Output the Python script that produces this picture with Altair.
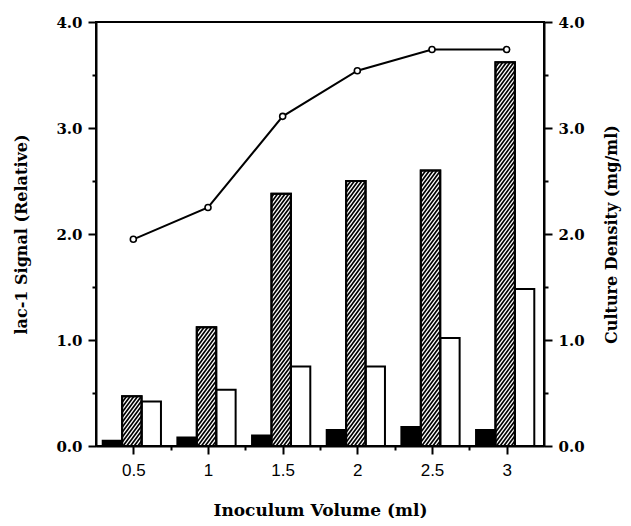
import altair as alt
import pandas as pd

# ---- data ----
volumes = [0.5, 1, 1.5, 2, 2.5, 3]
lac_black = [0.05, 0.08, 0.10, 0.15, 0.18, 0.15]
lac_hatched = [0.47, 1.12, 2.38, 2.50, 2.60, 3.62]
lac_white = [0.42, 0.53, 0.75, 0.75, 1.02, 1.48]
density = [1.95, 2.25, 3.11, 3.54, 3.74, 3.74]

# ---- layout constants ----
W, H = 448, 424
XPX = W / 3.0   # px per x unit (domain 0.25..3.25)
YPX = H / 4.0   # px per y unit (domain 0..4)
BW = 0.13       # bar width in x units
OFF_BLACK, OFF_HATCH, OFF_WHITE = -0.205, -0.075, 0.055
SLOPE = 1.35    # hatch slope (screen)
PERIOD = 5.0    # hatch vertical period, px
SERIF = "DejaVu Serif"
SANS = "Liberation Sans"

black_df = pd.DataFrame({"vol": volumes, "val": lac_black})
hatch_df = pd.DataFrame({"vol": volumes, "val": lac_hatched})
white_df = pd.DataFrame({"vol": volumes, "val": lac_white})
line_df = pd.DataFrame({"vol": volumes, "density": density})

xscale = alt.Scale(domain=[0.25, 3.25], nice=False, zero=False)
yscale = alt.Scale(domain=[0, 4], nice=False)

x_ticks = [0.5, 0.75, 1, 1.25, 1.5, 1.75, 2, 2.25, 2.5, 2.75, 3]
y_ticks = [0, 0.5, 1, 1.5, 2, 2.5, 3, 3.5, 4]

x_axis = alt.Axis(
    values=x_ticks,
    labelExpr="(datum.value * 2) % 1 === 0 ? format(datum.value, '~g') : ''",
    tickSize={"condition": {"test": "(datum.value * 2) % 1 === 0", "value": 8}, "value": 4},
    title="Inoculum Volume (ml)",
    titleFont=SERIF, titleFontWeight="bold", titleFontSize=17,
    titlePadding=24,
    labelFont=SANS, labelFontSize=17, labelFontWeight="normal", labelPadding=8,
    grid=False, domainColor="black", domainWidth=2, tickColor="black", tickWidth=2,
    labelColor="black", titleColor="black",
)

def y_axis(orient, title, title_pad, angle, baseline):
    return alt.Axis(
        orient=orient,
        values=y_ticks,
        labelExpr="datum.value % 1 === 0 ? format(datum.value, '.1f') : ''",
        tickSize={"condition": {"test": "datum.value % 1 === 0", "value": 8}, "value": 4},
        title=title,
        titleFont=SERIF, titleFontWeight="bold", titleFontSize=16,
        titlePadding=title_pad, titleAngle=angle, titleBaseline=baseline,
        labelFont=SERIF, labelFontSize=15, labelFontWeight="bold", labelPadding=6,
        grid=False, domainColor="black", domainWidth=2, tickColor="black", tickWidth=2,
        labelColor="black", titleColor="black",
    )

left_axis = y_axis("left", "lac-1 Signal (Relative)", 26, 270, "bottom")
right_axis = y_axis("right", "Culture Density (mg/ml)", 19, 270, "top")

def bar_layer(df, off, fill, fill_opacity=1.0):
    return alt.Chart(df).transform_calculate(
        x0=f"datum.vol + ({off})", x1=f"datum.vol + ({off}) + {BW}"
    ).mark_rect(fill=fill, fillOpacity=fill_opacity, stroke="black", strokeWidth=2).encode(
        x=alt.X("x0:Q", scale=xscale, axis=x_axis),
        x2="x1:Q",
        y=alt.Y("val:Q", scale=yscale, axis=left_axis),
        y2=alt.datum(0),
    )

black_bars = bar_layer(black_df, OFF_BLACK, "black")
white_bars = bar_layer(white_df, OFF_WHITE, "white")
hatch_base = bar_layer(hatch_df, OFF_HATCH, "white")
hatch_outline = bar_layer(hatch_df, OFF_HATCH, "white", 0.0)

wpx = BW * XPX
hatch_lines = alt.Chart(hatch_df).transform_calculate(
    hp=f"datum.val * {YPX}",
    left=f"datum.vol + ({OFF_HATCH})",
).transform_calculate(
    hs=f"sequence(0, ceil((datum.hp + {SLOPE * wpx}) / {PERIOD}) + 1)"
).transform_flatten(["hs"]).transform_calculate(
    b=f"-{SLOPE * wpx} + datum.hs * {PERIOD}"
).transform_calculate(
    u0=f"max(0, -datum.b / {SLOPE})",
    u1=f"min({wpx}, (datum.hp - datum.b) / {SLOPE})",
).transform_filter("datum.u1 > datum.u0").transform_calculate(
    xa=f"datum.left + datum.u0 / {XPX}",
    xb=f"datum.left + datum.u1 / {XPX}",
    ya=f"({SLOPE} * datum.u0 + datum.b) / {YPX}",
    yb=f"({SLOPE} * datum.u1 + datum.b) / {YPX}",
).mark_rule(color="black", strokeWidth=1.7).encode(
    x=alt.X("xa:Q", scale=xscale, axis=x_axis),
    x2="xb:Q",
    y=alt.Y("ya:Q", scale=yscale, axis=left_axis),
    y2="yb:Q",
)

bars = alt.layer(black_bars, white_bars, hatch_base, hatch_lines, hatch_outline)

line = alt.Chart(line_df).mark_line(color="black", strokeWidth=2).encode(
    x=alt.X("vol:Q", scale=xscale, axis=x_axis),
    y=alt.Y("density:Q", scale=yscale, axis=right_axis),
)
points = alt.Chart(line_df).mark_point(
    shape="circle", filled=True, fill="white", stroke="black", strokeWidth=1.6, size=36, opacity=1
).encode(
    x=alt.X("vol:Q", scale=xscale, axis=x_axis),
    y=alt.Y("density:Q", scale=yscale, axis=right_axis),
)
density_layer = alt.layer(line, points)

chart = alt.layer(bars, density_layer).resolve_scale(y="independent").properties(
    width=W, height=H,
    autosize="none",
    padding={"left": 88, "top": 14, "right": 79, "bottom": 72},
    background="white",
).configure_view(stroke="black", strokeWidth=2)

chart.save("out.html", embed_options={"renderer": "svg", "actions": False})
